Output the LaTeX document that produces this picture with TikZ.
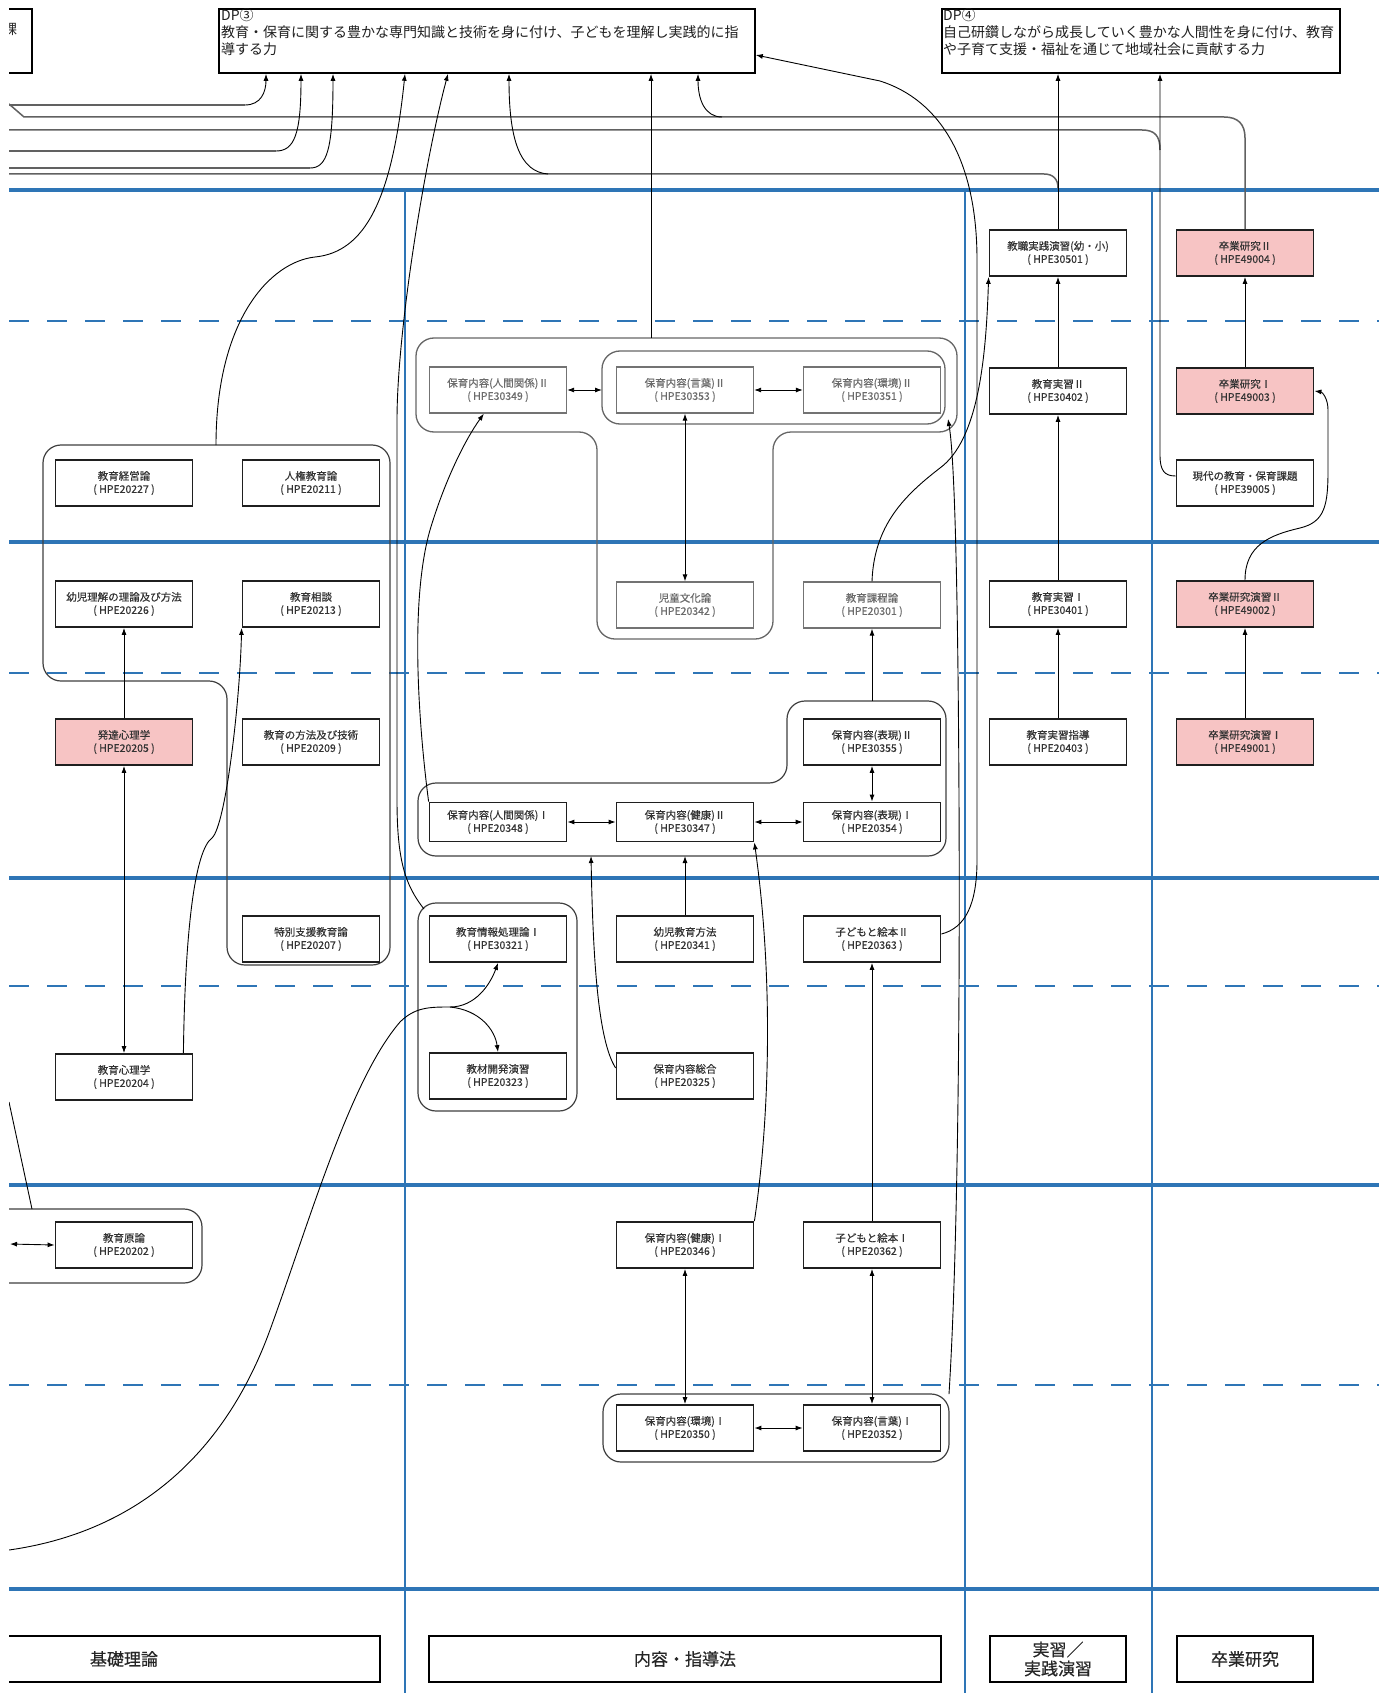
\documentclass[tikz,border=0pt]{standalone}
\usepackage{fontspec}
\setmainfont{Noto Sans CJK JP}
\newfontfamily\crsfont[RawFeature={embolden=0.45}]{Noto Sans CJK JP}
\usetikzlibrary{arrows.meta,calc}
\definecolor{bl}{RGB}{46,117,182}
\definecolor{pk}{RGB}{247,196,196}
\begin{document}
\begin{tikzpicture}[x=1pt,y=-1pt,
 course/.style={draw=black!88,line width=1.8pt,fill=white,minimum width=137pt,minimum height=46pt,inner sep=0pt,align=center,font=\crsfont\fontsize{10.5}{13}\selectfont,text=black!80},
 shortbox/.style={course,minimum height=39pt},
 pinkbox/.style={course,fill=pk},
 fadedbox/.style={course,draw=black!55,line width=1.3pt,text=black!58},
 grp/.style={draw=black!75,line width=1.2pt,rounded corners=18pt},
 conn/.style={draw=black,line width=0.9pt},
 arr/.style={conn,-{Latex[length=7pt,width=5pt]}},
 darr/.style={conn,{Latex[length=7pt,width=5pt]}-{Latex[length=7pt,width=5pt]}},
 topline/.style={draw=black!62,line width=1.5pt},
 bsolid/.style={draw=bl,line width=3.2pt},
 bdash/.style={draw=bl,line width=2.8pt,dash pattern=on 20pt off 18pt},
 bvert/.style={draw=bl,line width=2pt},
 dpbox/.style={draw=black,line width=1.8pt,inner sep=0pt,minimum height=64pt,anchor=north west},
 dptext/.style={anchor=north west,align=left,inner sep=0pt,font=\fontsize{14}{17.3}\selectfont,text=black!88},
 catbox/.style={draw=black,line width=2.2pt,fill=white,align=center,inner sep=0pt,minimum height=46pt,font=\crsfont\fontsize{17}{19}\selectfont,text=black!85}
]
\useasboundingbox (0,0) rectangle (1378,1693);
\fill[white] (0,0) rectangle (1378,1693);
\clip (9,-5) rectangle (1385,1700);

% ---------- blue grid ----------
\foreach \yy in {190,542,878,1185,1589} \draw[bsolid] (9,\yy) -- (1380,\yy);
\foreach \yy in {321,673,986,1385} \draw[bdash] (9,\yy) -- (1380,\yy);
\foreach \xx in {405,965,1152} \draw[bvert] (\xx,190) -- (\xx,1695);

% ---------- DP boxes ----------
\node[dpbox,minimum width=81pt] (dp2) at (-50,8) {};
\node[font=\fontsize{14}{14}\selectfont,text=black!85] (dp2t) at (10,29) {課};
\node[dpbox,minimum width=536pt] (dp3) at (218,8) {};
\node[dptext] (dp3t) at (221,8) {DP③\\教育・保育に関する豊かな専門知識と技術を身に付け、子どもを理解し実践的に指\\導する力};
\node[dpbox,minimum width=398pt] (dp4) at (941,8) {};
\node[dptext] (dp4t) at (943,8) {DP④\\自己研鑽しながら成長していく豊かな人間性を身に付け、教育\\や子育て支援・福祉を通じて地域社会に貢献する力};

% ---------- groups ----------
\draw[grp,draw=black!60,line width=1.3pt] (686,338) -- (957,338) -- (957,432) -- (773,432) -- (773,639) -- (597,639) -- (597,432) -- (416,432) -- (416,338) -- cycle;
\draw[grp,draw=black!60,line width=1.3pt] (602,351) rectangle (945,424);
\draw[grp] (216,445) -- (390,445) -- (390,965) -- (227,965) -- (227,681) -- (43,681) -- (43,445) -- cycle;
\draw[grp] (600,783) -- (787,783) -- (787,701) -- (946,701) -- (946,856) -- (418,856) -- (418,783) -- cycle;
\draw[grp] (418,903) rectangle (577,1111);
\draw[grp] (603,1394) rectangle (949,1462);
\draw[grp] (-40,1209) rectangle (202,1283);

\coordinate (Ttop) at (651,338);
\coordinate (Ltop) at (872,701);
\coordinate (Lbot1) at (685,856);
\coordinate (Lbot2) at (591,856);
\coordinate (LGtop) at (216,445);
\coordinate (JGtl) at (424,909);
\coordinate (KGtr) at (949,1394);
\coordinate (innerBR) at (948,419);
\coordinate (innerW) at (602,390);
\coordinate (GGtop) at (32,1209);
\coordinate (farA) at (9,1102);
\coordinate (farB) at (10,1244);
\coordinate (farC) at (9,1550);
\coordinate (split) at (450,1007);

% ---------- course nodes ----------
\node[course] (keiei) at (124,483) {教育経営論\\( HPE20227 )};
\node[course] (yoji) at (124,604) {幼児理解の理論及び方法\\( HPE20226 )};
\node[pinkbox] (hattatsu) at (124,742) {発達心理学\\( HPE20205 )};
\node[course] (shinri) at (124,1077) {教育心理学\\( HPE20204 )};
\node[course] (genron) at (124,1245) {教育原論\\( HPE20202 )};

\node[course] (jinken) at (311,483) {人権教育論\\( HPE20211 )};
\node[course] (sodan) at (311,604) {教育相談\\( HPE20213 )};
\node[course] (hoho) at (311,742) {教育の方法及び技術\\( HPE20209 )};
\node[course] (tokubetsu) at (311,939) {特別支援教育論\\( HPE20207 )};

\node[fadedbox] (ningen2) at (498,390) {保育内容(人間関係)Ⅱ\\( HPE30349 )};
\node[shortbox] (ningen1) at (498,822) {保育内容(人間関係)Ⅰ\\( HPE20348 )};
\node[course] (joho) at (498,939) {教育情報処理論Ⅰ\\( HPE30321 )};
\node[course] (kyozai) at (498,1076) {教材開発演習\\( HPE20323 )};

\node[fadedbox] (kotoba2) at (685,390) {保育内容(言葉)Ⅱ\\( HPE30353 )};
\node[fadedbox] (jido) at (685,605) {児童文化論\\( HPE20342 )};
\node[shortbox] (kenko2) at (685,822) {保育内容(健康)Ⅱ\\( HPE30347 )};
\node[course] (yojikyoiku) at (685,939) {幼児教育方法\\( HPE20341 )};
\node[course] (sogo) at (685,1076) {保育内容総合\\( HPE20325 )};
\node[course] (kenko1) at (685,1245) {保育内容(健康)Ⅰ\\( HPE20346 )};
\node[course] (kankyo1) at (685,1428) {保育内容(環境)Ⅰ\\( HPE20350 )};

\node[fadedbox] (kankyo2) at (872,390) {保育内容(環境)Ⅱ\\( HPE30351 )};
\node[fadedbox] (katei) at (872,605) {教育課程論\\( HPE20301 )};
\node[course] (hyogen2) at (872,742) {保育内容(表現)Ⅱ\\( HPE30355 )};
\node[shortbox] (hyogen1) at (872,822) {保育内容(表現)Ⅰ\\( HPE20354 )};
\node[course] (ehon2) at (872,939) {子どもと絵本Ⅱ\\( HPE20363 )};
\node[course] (ehon1) at (872,1245) {子どもと絵本Ⅰ\\( HPE20362 )};
\node[course] (kotoba1) at (872,1428) {保育内容(言葉)Ⅰ\\( HPE20352 )};

\node[course] (kyoshoku) at (1058,253) {教職実践演習(幼・小)\\( HPE30501 )};
\node[course] (jisshu2) at (1058,391) {教育実習Ⅱ\\( HPE30402 )};
\node[course] (jisshu1) at (1058,604) {教育実習Ⅰ\\( HPE30401 )};
\node[course] (shido) at (1058,742) {教育実習指導\\( HPE20403 )};

\node[pinkbox] (sotsu2) at (1245,253) {卒業研究Ⅱ\\( HPE49004 )};
\node[pinkbox] (sotsu1) at (1245,391) {卒業研究Ⅰ\\( HPE49003 )};
\node[course] (gendai) at (1245,483) {現代の教育・保育課題\\( HPE39005 )};
\node[pinkbox] (enshu2) at (1245,604) {卒業研究演習Ⅱ\\( HPE49002 )};
\node[pinkbox] (enshu1) at (1245,742) {卒業研究演習Ⅰ\\( HPE49001 )};

% ---------- category boxes ----------
\node[catbox,minimum width=512pt] (cat1) at (124,1659) {基礎理論};
\node[catbox,minimum width=512pt] (cat2) at (685,1659) {内容・指導法};
\node[catbox,minimum width=136pt] (cat3) at (1058,1659) {実習／\\実践演習};
\node[catbox,minimum width=136pt] (cat4) at (1245,1659) {卒業研究};

% ---------- top lines ----------
\draw[topline] (9,105) -- (245,105);
\draw[arr] (245,105) .. controls (261,105) and (266,92) .. ($(dp3.south west)+(48,0)$);
\draw[topline] (9,104) -- (24,117) -- (1224,117) .. controls (1238,117) and (1245,124) .. (1245,138) -- (sotsu2.north);
\draw[arr] (722,117) .. controls (705,117) and (698,100) .. ($(dp3.south west)+(480,0)$);
\draw[topline] (9,130) -- (1142,130) .. controls (1155,130) and (1160,136) .. (1160,150);
\draw[topline] (9,151) -- (276,151);
\draw[arr] (276,151) .. controls (294,151) and (301,135) .. ($(dp3.south west)+(83,0)$);
\draw[topline] (9,168) -- (310,168);
\draw[arr] (310,168) .. controls (327,168) and (333,150) .. ($(dp3.south west)+(115,0)$);
\draw[topline] (9,174) -- (1044,174) .. controls (1053,174) and (1058,179) .. (1058,188);
\draw[arr] (548,174) .. controls (520,172) and (509,140) .. ($(dp3.south west)+(291,0)$);

% ---------- DP connectors ----------
\draw[arr] (kyoshoku.north) -- ($(dp4.south west)+(117,0)$);
\draw[arr] ($(gendai.west)+(0,-7)$) .. controls (1164,476) and (1160,470) .. (1160,455) -- ($(dp4.south west)+(219,0)$);
\draw[arr] (Ttop) -- ($(dp3.south west)+(433,0)$);
\draw[arr] (LGtop) .. controls (216,320) and (270,262) .. (315,257) .. controls (365,252) and (392,200) .. ($(dp3.south west)+(187,0)$);
\draw[arr] (JGtl) .. controls (405,885) and (397,860) .. (397,800) -- (397,420) .. controls (397,330) and (425,160) .. ($(dp3.south west)+(230,0)$);
\draw[arr] ($(ehon2.east)+(0,-5)$) .. controls (965,928) and (977,905) .. (977,860) -- (977,260) .. controls (977,160) and (940,100) .. (880,81) -- ($(dp3.north east)+(0,47)$);

% ---------- left column ----------
\draw[arr] (hattatsu.north) -- (yoji.south);
\draw[darr] (shinri.north) -- (hattatsu.south);
\draw[arr] ($(shinri.north east)+(-10,0)$) .. controls (185,930) and (195,850) .. (212,838) .. controls (226,825) and (240,700) .. (sodan.south west);
\draw[conn] (farA) -- (GGtop);
\draw[darr] (farB) -- (genron.west);

% ---------- content column ----------
\draw[arr] (ningen1.north west) .. controls (418,720) and (410,600) .. (430,530) .. controls (445,480) and (465,440) .. ($(ningen2.south west)+(55,0)$);
\draw[darr] (ningen2.east) -- (innerW);
\draw[darr] (kotoba2.east) -- (kankyo2.west);
\draw[darr] (kotoba2.south) -- (jido.north);
\draw[arr] (Ltop) -- (katei.south);
\draw[arr] (katei.north) .. controls (874,525) and (905,495) .. (940,468) .. controls (978,440) and (986,360) .. (kyoshoku.south west);
\draw[darr] (ningen1.east) -- (kenko2.west);
\draw[darr] (kenko2.east) -- (hyogen1.west);
\draw[darr] (hyogen2.south) -- (hyogen1.north);
\draw[arr] (yojikyoiku.north) -- (Lbot1);
\draw[arr] ($(sogo.west)+(0,-8)$) .. controls (598,1040) and (593,960) .. (Lbot2);
\draw[arr] (kenko1.north east) .. controls (768,1130) and (775,990) .. (kenko2.south east);
\draw[arr] (ehon1.north) -- (ehon2.south);
\draw[darr] (kenko1.south) -- (kankyo1.north);
\draw[darr] (ehon1.south) -- (kotoba1.north);
\draw[darr] (kankyo1.east) -- (kotoba1.west);
\draw[arr] (KGtr) .. controls (958,1250) and (960,1000) .. (959,800) .. controls (958,600) and (955,460) .. (innerBR);
\draw[conn] (farC) .. controls (150,1530) and (230,1440) .. (270,1330) .. controls (310,1220) and (350,1080) .. (400,1022) .. controls (415,1007) and (430,1007) .. (split);
\draw[arr] (split) .. controls (475,1007) and (490,985) .. (joho.south);
\draw[arr] (split) .. controls (480,1010) and (495,1030) .. (kyozai.north);

% ---------- practice / research ----------
\draw[arr] (shido.north) -- (jisshu1.south);
\draw[arr] (jisshu1.north) -- (jisshu2.south);
\draw[arr] (jisshu2.north) -- (kyoshoku.south);
\draw[arr] (enshu1.north) -- (enshu2.south);
\draw[arr] (sotsu1.north) -- (sotsu2.south);
\draw[arr] (enshu2.north) .. controls (1245,545) and (1270,535) .. (1300,528) .. controls (1325,522) and (1328,505) .. (1328,470) -- (1328,410) .. controls (1328,398) and (1322,392) .. (sotsu1.east);
\end{tikzpicture}
\end{document}
